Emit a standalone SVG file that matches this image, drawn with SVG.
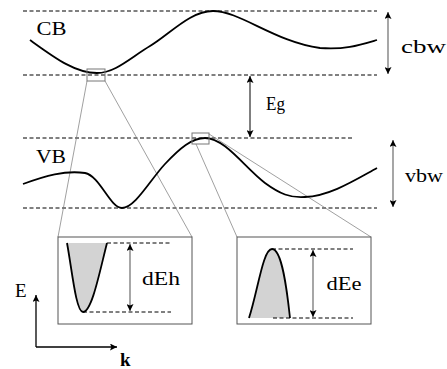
<svg xmlns="http://www.w3.org/2000/svg" width="447" height="369" viewBox="0 0 447 369">
<style>
text{font-family:"Times New Roman","Liberation Serif",Tinos,Times,serif;font-size:19px;fill:#000}
.dash{stroke:#000;stroke-width:1;stroke-dasharray:4,2.5;fill:none}
.curve{stroke:#000;stroke-width:1.8;fill:none}
.gray{stroke:#777;stroke-width:1;fill:none}
.thin{stroke:#777;stroke-width:0.7;fill:none}
.box{stroke:#555;stroke-width:1;fill:#fff}
.fill{fill:#d3d3d3;stroke:none}
.darr{stroke:#777;stroke-width:1.3;fill:none;marker-start:url(#ah);marker-end:url(#ah)}
.barr{stroke:#000;stroke-width:1;fill:none;marker-start:url(#ah);marker-end:url(#ah)}
.axis{stroke:#000;stroke-width:1.3;fill:none;marker-end:url(#ah)}
</style>
<defs>
<marker id="ah" viewBox="0 0 10 10" refX="10" refY="5" markerWidth="9" markerHeight="7" markerUnits="userSpaceOnUse" orient="auto-start-reverse">
<path d="M0,0 L10,5 L0,10 L2,5 Z" fill="#000"/>
</marker>
</defs>
<rect width="447" height="369" fill="#fff"/>
<g id="levels">
<line class="dash" x1="23" y1="11" x2="377" y2="11"/>
<line class="dash" x1="23" y1="75" x2="377" y2="75"/>
<line class="dash" x1="23" y1="138" x2="352" y2="138"/>
<line class="dash" x1="23" y1="208" x2="377" y2="208"/>
</g>
<g id="connectors">
<line class="thin" x1="87" y1="81" x2="58" y2="237"/>
<line class="thin" x1="105" y1="81" x2="192" y2="237"/>
<line class="thin" x1="196" y1="144" x2="237" y2="237"/>
<line class="thin" x1="209" y1="134" x2="371" y2="237"/>
</g>
<g id="cb">
<path class="curve" d="M30,40 C55,58 75,73 97,73 C115,73 130,58 150,46 C170,34 190,11 213,11 C240,11 275,42 320,48 C345,50 360,45 377,40"/>
<rect class="gray" x="87" y="69" width="18" height="12"/>
<text x="36.5" y="35" textLength="30" lengthAdjust="spacingAndGlyphs">CB</text>
</g>
<g id="vb">
<path class="curve" d="M23,184 C45,176 65,170 85,173 C100,176 110,208 122,208 C135,208 150,180 165,164 C180,148 192,138 205,138 C225,138 245,168 265,183 C280,194 290,198 305,197 C330,196 355,180 377,168"/>
<rect class="gray" x="192" y="133" width="17" height="11"/>
<text x="36" y="163" textLength="30" lengthAdjust="spacingAndGlyphs">VB</text>
</g>
<g id="cbw">
<line class="darr" x1="388" y1="12" x2="388" y2="74"/>
<text x="401" y="53" textLength="45" lengthAdjust="spacingAndGlyphs">cbw</text>
</g>
<g id="eg">
<line class="barr" x1="250" y1="76" x2="250" y2="137"/>
<text x="266" y="110" textLength="19" lengthAdjust="spacingAndGlyphs">Eg</text>
</g>
<g id="vbw">
<line class="darr" x1="393" y1="140" x2="393" y2="207"/>
<text x="405" y="182" textLength="38" lengthAdjust="spacingAndGlyphs">vbw</text>
</g>
<g id="inset-cb">
<rect class="box" x="58" y="237" width="134" height="87"/>
<path class="fill" d="M67,243 C72,270 76,312 83,312 C92,312 100,270 107,243 Z"/>
<path class="curve" d="M67,243 C72,270 76,312 83,312 C92,312 100,270 107,243"/>
<line class="dash" x1="107" y1="243" x2="171" y2="243"/>
<line class="dash" x1="83" y1="312" x2="171" y2="312"/>
<line class="darr" x1="130" y1="244" x2="130" y2="311"/>
<text x="142" y="285" textLength="38" lengthAdjust="spacingAndGlyphs">dEh</text>
</g>
<g id="inset-vb">
<rect class="box" x="237" y="237" width="134" height="87"/>
<path class="fill" d="M249,318 C258,290 263,249 272,249 C282,249 287,290 290,318 Z"/>
<path class="curve" d="M249,318 C258,290 263,249 272,249 C282,249 287,290 290,318"/>
<line class="dash" x1="272" y1="249" x2="353" y2="249"/>
<line class="dash" x1="273" y1="318" x2="353" y2="318"/>
<line class="darr" x1="313" y1="250" x2="313" y2="317"/>
<text x="326.5" y="290" textLength="35" lengthAdjust="spacingAndGlyphs">dEe</text>
</g>
<g id="axes">
<path class="axis" d="M36,347 L36,295"/>
<path class="axis" d="M36,347 L117,347"/>
<text x="15" y="297">E</text>
<text x="120" y="366" font-weight="bold">k</text>
</g>
</svg>
